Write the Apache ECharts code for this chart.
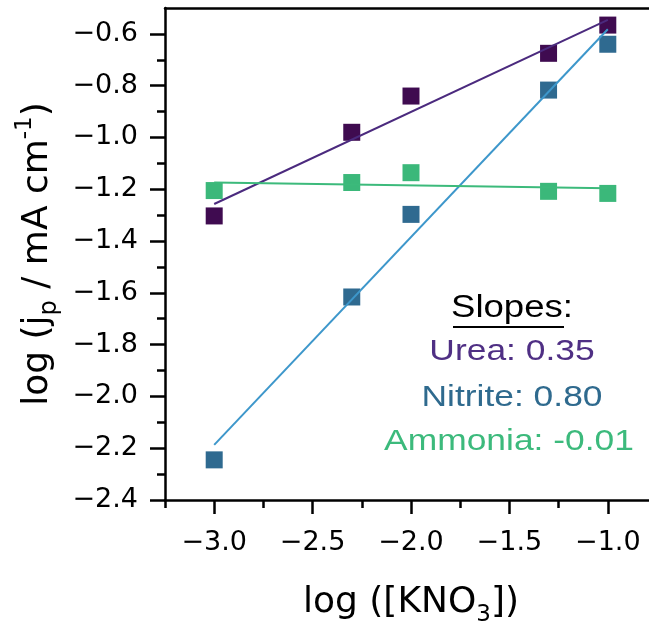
<!DOCTYPE html>
<html><head><meta charset="utf-8">
<script src="https://cdn.jsdelivr.net/npm/echarts@6/dist/echarts.min.js"></script>
<style>html,body{margin:0;padding:0;background:#fff}#c{width:649px;height:625px}</style>
</head><body><div id="c"></div>
<script>
// ---- data ----
const xValues = [-3, -2.30103, -2, -1.30103, -1];          // log([KNO3])
const ureaY = [-1.303, -0.980, -0.840, -0.675, -0.566];
const nitriteY = [-2.245, -1.616, -1.297, -0.817, -0.640];
const ammoniaY = [-1.205, -1.174, -1.136, -1.208, -1.216];
// linear fit end points
const fitX = [-3, -1];
const ureaFit = [-1.257, -0.546];
const nitriteFit = [-2.187, -0.582];
const ammoniaFit = [-1.174, -1.196];
// ticks
const xMajorTicks = [-3.0, -2.5, -2.0, -1.5, -1.0];
const xMinorTicks = [-3.25, -2.75, -2.25, -1.75, -1.25, -0.75];
const yMajorTicks = [-2.4, -2.2, -2.0, -1.8, -1.6, -1.4, -1.2, -1.0, -0.8, -0.6];
const yMinorTicks = [-2.3, -2.1, -1.9, -1.7, -1.5, -1.3, -1.1, -0.9, -0.7];
const slopeLabels = ['Urea: 0.35', 'Nitrite: 0.80', 'Ammonia: -0.01'];

const FONT = 'DejaVu Sans';
const FONT2 = 'Liberation Sans';
const C = {
  ureaPt: '#3f0b50', ureaLine: '#4b2a7e', ureaText: '#4f2f84',
  nitPt: '#2f6a90', nitLine: '#3d97cb', nitText: '#2f6a8e',
  amPt: '#3bb87a', amLine: '#3cba7b', amText: '#3cba7c'
};
const XMIN = -3.25, XMAX = -0.75, YMIN = -2.4, YMAX = -0.5;
const fmt = v => (v < 0 ? '\u2212' : '') + Math.abs(v).toFixed(1);
const pair = (xs, ys) => xs.map((x, i) => [x, ys[i]]);
const gridPos = { left: 165, right: -8, top: 8, bottom: 125, containLabel: false, outerBoundsMode: 'none' };

const chart = echarts.init(document.getElementById('c'), null, { renderer: 'canvas' });
const txt = (text, x, y, fill, size) => ({
  type: 'text', x: x, y: y, scaleX: 1.18, scaleY: 1,
  style: { text: text, fontFamily: FONT2, fontSize: size, fill: fill, align: 'center', verticalAlign: 'middle' }
});
chart.setOption({
  animation: false,
  backgroundColor: '#fff',
  grid: [Object.assign({}, gridPos), Object.assign({}, gridPos)],
  xAxis: [
    {
      type: 'value', gridIndex: 0, position: 'bottom', min: XMIN, max: XMAX,
      axisLine: { show: true, onZero: false, lineStyle: { color: '#000', width: 2.5 } },
      axisTick: { show: true, inside: false, length: 14, customValues: xMajorTicks, lineStyle: { color: '#000', width: 2.5 } },
      axisLabel: { show: true, customValues: xMajorTicks, formatter: fmt, margin: 29, fontFamily: FONT, fontSize: 27, color: '#000' },
      splitLine: { show: false },
      name: 'log ([KNO{sub|3}])', nameLocation: 'middle', nameGap: 79,
      nameTextStyle: {
        fontFamily: FONT, fontSize: 36, color: '#000', lineHeight: 48,
        rich: { sub: { fontFamily: FONT, fontSize: 23, color: '#000', verticalAlign: 'bottom', lineHeight: 30 } }
      }
    },
    {
      type: 'value', gridIndex: 0, position: 'top', min: XMIN, max: XMAX,
      axisLine: { show: true, onZero: false, lineStyle: { color: '#000', width: 2.5 } },
      axisTick: { show: false }, axisLabel: { show: false }, splitLine: { show: false }
    },
    {
      type: 'value', gridIndex: 1, position: 'bottom', min: XMIN, max: XMAX,
      axisLine: { show: false, onZero: false },
      axisTick: { show: true, length: 8, customValues: xMinorTicks, lineStyle: { color: '#000', width: 2.5 } },
      axisLabel: { show: false }, splitLine: { show: false }
    }
  ],
  yAxis: [
    {
      type: 'value', gridIndex: 0, position: 'left', min: YMIN, max: YMAX, interval: 0.2,
      axisLine: { show: true, onZero: false, lineStyle: { color: '#000', width: 2.5 } },
      axisTick: { show: true, length: 15, customValues: yMajorTicks, lineStyle: { color: '#000', width: 2.5 } },
      axisLabel: { show: true, customValues: yMajorTicks, formatter: fmt, margin: 27, fontFamily: FONT, fontSize: 27, color: '#000' },
      splitLine: { show: false },
      name: 'log (j{sub|p} / mA cm{sup|-1})', nameLocation: 'middle', nameRotate: 90, nameGap: 100,
      nameTextStyle: {
        fontFamily: FONT, fontSize: 36, color: '#000', lineHeight: 48,
        rich: {
          sub: { fontFamily: FONT, fontSize: 24, color: '#000', verticalAlign: 'bottom', lineHeight: 30 },
          sup: { fontFamily: FONT, fontSize: 23, color: '#000', verticalAlign: 'top', lineHeight: 30 }
        }
      }
    },
    {
      type: 'value', gridIndex: 1, position: 'left', min: YMIN, max: YMAX,
      axisLine: { show: false, onZero: false },
      axisTick: { show: true, length: 8, customValues: yMinorTicks, lineStyle: { color: '#000', width: 2.5 } },
      axisLabel: { show: false }, splitLine: { show: false }
    }
  ],
  series: [
    { type: 'scatter', xAxisIndex: 0, yAxisIndex: 0, symbol: 'rect', symbolSize: 17, itemStyle: { color: C.ureaPt, opacity: 1 }, data: pair(xValues, ureaY), z: 2 },
    { type: 'scatter', xAxisIndex: 0, yAxisIndex: 0, symbol: 'rect', symbolSize: 17, itemStyle: { color: C.nitPt, opacity: 1 }, data: pair(xValues, nitriteY), z: 3 },
    { type: 'scatter', xAxisIndex: 0, yAxisIndex: 0, symbol: 'rect', symbolSize: 17, itemStyle: { color: C.amPt, opacity: 1 }, data: pair(xValues, ammoniaY), z: 4 },
    { type: 'line', xAxisIndex: 0, yAxisIndex: 0, showSymbol: false, symbol: 'none', lineStyle: { color: C.ureaLine, width: 2 }, data: pair(fitX, ureaFit), z: 5 },
    { type: 'line', xAxisIndex: 0, yAxisIndex: 0, showSymbol: false, symbol: 'none', lineStyle: { color: C.nitLine, width: 2 }, data: pair(fitX, nitriteFit), z: 5 },
    { type: 'line', xAxisIndex: 0, yAxisIndex: 0, showSymbol: false, symbol: 'none', lineStyle: { color: C.amLine, width: 2 }, data: pair(fitX, ammoniaFit), z: 5 }
  ],
  graphic: [
    txt('Slopes:', 512, 308, '#000', 31),
    { type: 'line', shape: { x1: 453, y1: 327, x2: 564, y2: 327 }, style: { stroke: '#000', lineWidth: 2 } },
    txt(slopeLabels[0], 512, 352, C.ureaText, 30),
    txt(slopeLabels[1], 512, 398, C.nitText, 30),
    txt(slopeLabels[2], 509, 442, C.amText, 30)
  ]
});
</script>
</body></html>
